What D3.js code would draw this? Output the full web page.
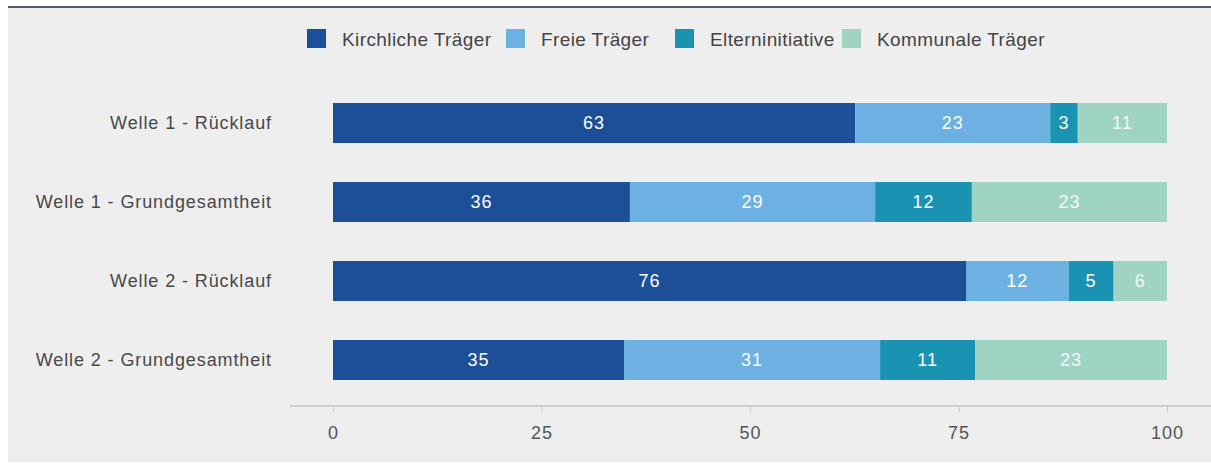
<!DOCTYPE html>
<html>
<head>
<meta charset="utf-8">
<script src="https://cdn.jsdelivr.net/npm/d3@7"></script>
<style>
  html, body { margin: 0; padding: 0; background: #ffffff; }
  svg { display: block; }
  text { font-family: "Liberation Sans", Arial, sans-serif; }
</style>
</head>
<body>
<svg id="chart" width="1211" height="466"></svg>
<script>
// ---- data ----
const categories = ["Welle 1 - Rücklauf", "Welle 1 - Grundgesamtheit", "Welle 2 - Rücklauf", "Welle 2 - Grundgesamtheit"];
const seriesNames = ["Kirchliche Träger", "Freie Träger", "Elterninitiative", "Kommunale Träger"];
const kirchliche = [62.6, 35.6, 75.9, 34.9];
const freie = [23.4, 29.4, 12.3, 30.7];
const eltern = [3.3, 11.6, 5.4, 11.4];
const kommunal = [10.7, 23.4, 6.4, 23.0];
const tickValues = [0, 25, 50, 75, 100];
const colors = ["#1c4f98", "#6cb1e1", "#1a93b3", "#9fd4c5"];

const seriesValues = [kirchliche, freie, eltern, kommunal];

const svg = d3.select("#chart");

// background panel
svg.append("rect").attr("x", 8).attr("y", 7).attr("width", 1203).attr("height", 455).attr("fill", "#eeeeef");
svg.append("line").attr("x1", 8).attr("x2", 1211).attr("y1", 7).attr("y2", 7)
  .attr("stroke", "#4f5b66").attr("stroke-width", 2);

const x = d3.scaleLinear().domain([0, 100]).range([333, 1167]);
const y = d3.scaleBand().domain(categories).range([83.5, 399.5]).paddingInner(0.494).paddingOuter(0.247);

// stacked data
const rows = categories.map((c, i) => {
  const r = { cat: c };
  seriesNames.forEach((s, j) => r[s] = seriesValues[j][i]);
  return r;
});
const stack = d3.stack().keys(seriesNames)(rows);

// bars
const g = svg.append("g");
stack.forEach((layer, j) => {
  const lg = g.append("g").attr("fill", colors[j]);
  lg.selectAll("rect").data(layer).join("rect")
    .attr("x", d => x(d[0]))
    .attr("y", d => y(d.data.cat))
    .attr("width", d => x(d[1]) - x(d[0]))
    .attr("height", y.bandwidth());
  g.append("g").selectAll("text").data(layer).join("text")
    .attr("x", d => (x(d[0]) + x(d[1])) / 2)
    .attr("y", d => y(d.data.cat) + y.bandwidth() / 2)
    .attr("dy", "0.35em")
    .attr("text-anchor", "middle")
    .attr("fill", j === 3 ? "#f2f7f6" : "#ffffff")
    .attr("font-size", 18)
    .attr("letter-spacing", 1)
    .text(d => Math.round(d[1] - d[0]));
});

// category labels
svg.append("g").selectAll("text").data(categories).join("text")
  .attr("x", 272)
  .attr("y", d => y(d) + y.bandwidth() / 2)
  .attr("dy", "0.35em")
  .attr("text-anchor", "end")
  .attr("fill", "#484848")
  .attr("font-size", 18)
  .attr("letter-spacing", 0.9)
  .text(d => d);

// x axis
const axis = svg.append("g").attr("transform", "translate(0,406)")
  .call(d3.axisBottom(x).tickValues(tickValues).tickSize(6).tickPadding(14).tickFormat(d3.format("d")));
axis.select(".domain").remove();
axis.selectAll(".tick line").attr("stroke", "#c8c8c8");
axis.selectAll(".tick text").attr("fill", "#555555").attr("font-size", 18)
  .attr("letter-spacing", 1)
  .attr("font-family", "'Liberation Sans', Arial, sans-serif");
svg.append("line").attr("x1", 290).attr("x2", 1211).attr("y1", 406).attr("y2", 406)
  .attr("stroke", "#c4c4c4").attr("stroke-width", 1.5);

// legend
const legendX = [307, 506, 675, 842];
const lg = svg.append("g");
seriesNames.forEach((s, j) => {
  lg.append("rect").attr("x", legendX[j]).attr("y", 29).attr("width", 19).attr("height", 19).attr("fill", colors[j]);
  lg.append("text").attr("x", legendX[j] + 35).attr("y", 39).attr("dy", "0.35em")
    .attr("fill", "#444444").attr("font-size", 19).attr("letter-spacing", 0.4).text(s);
});
</script>
</body>
</html>
